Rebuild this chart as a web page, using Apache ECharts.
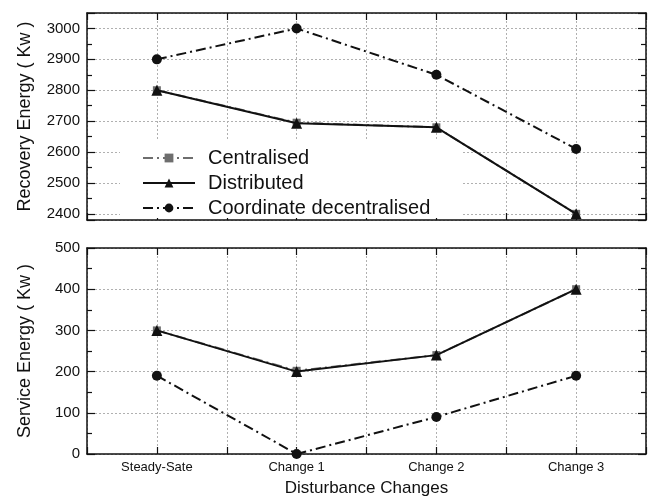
<!DOCTYPE html>
<html>
<head>
<meta charset="utf-8">
<script src="https://cdn.jsdelivr.net/npm/echarts@6/dist/echarts.min.js"></script>
<style>
  html, body { margin: 0; padding: 0; background: #fff; }
  #chart { width: 650px; height: 498px; }
</style>
</head>
<body>
<div id="chart"></div>
<script>
// Disturbance scenarios along the x axis
const categories = ['Steady-Sate', 'Change 1', 'Change 2', 'Change 3'];
const seriesNames = ['Centralised', 'Distributed', 'Coordinate decentralised'];

// Recovery energy (Kw)
const recoveryCentralised = [2800, 2695, 2680, 2400];
const recoveryDistributed = [2800, 2693, 2680, 2400];
const recoveryCoordinate = [2900, 3000, 2850, 2610];

// Service energy (Kw)
const serviceCentralised = [300, 202, 240, 400];
const serviceDistributed = [300, 200, 240, 400];
const serviceCoordinate = [190, 0, 90, 190];

const FONT = '"Liberation Sans", Arial, sans-serif';
const DASH_DOT = [10, 4, 2, 4];
const GRID_LINE = { show: true, lineStyle: { color: '#b0b0b0', type: [2, 2], width: 1 } };
const FRAME = { show: true, onZero: false, lineStyle: { color: '#111', width: 1.5 } };

// pair each value with its category index on the x scale
const toPoints = vals => vals.map((v, i) => [i, v]);

function xAxes(gridIndex, withLabels) {
  const base = {
    type: 'value', gridIndex, min: -0.5, max: 3.5, interval: 0.5,
    axisLine: FRAME,
    axisTick: { show: true, inside: true, length: 7, lineStyle: { color: '#111', width: 1.2 } }
  };
  return [
    Object.assign({}, base, {
      position: 'bottom',
      splitLine: GRID_LINE,
      axisLabel: withLabels ? {
        show: true, fontFamily: FONT, fontSize: 13, color: '#111', margin: 7,
        formatter: v => Number.isInteger(v) ? categories[v] : ''
      } : { show: false },
      name: withLabels ? 'Disturbance Changes' : '',
      nameLocation: 'middle', nameGap: 26,
      nameTextStyle: { fontFamily: FONT, fontSize: 17, color: '#111' }
    }),
    Object.assign({}, base, { position: 'top', splitLine: { show: false }, axisLabel: { show: false } })
  ];
}

function yAxes(gridIndex, range, title) {
  const base = {
    type: 'value', gridIndex, min: range[0], max: range[1], splitNumber: range[2],
    axisLine: FRAME,
    axisTick: { show: true, inside: true, length: 8, lineStyle: { color: '#111', width: 1.2 } },
    minorTick: { show: true, splitNumber: 2, length: 5, lineStyle: { color: '#111', width: 1.2 } }
  };
  return [
    Object.assign({}, base, {
      position: 'left',
      splitLine: GRID_LINE,
      axisLabel: {
        fontFamily: FONT, fontSize: 15, color: '#111', margin: 7,
        showMinLabel: range[3], showMaxLabel: range[3],
        formatter: v => String(v)
      },
      name: title, nameLocation: 'middle', nameGap: 53,
      nameTextStyle: { fontFamily: FONT, fontSize: 18, color: '#111' }
    }),
    Object.assign({}, base, { position: 'right', splitLine: { show: false }, axisLabel: { show: false } })
  ];
}

function lineSeries(name, values, axisIdx, style) {
  return {
    name, type: 'line', data: toPoints(values),
    xAxisIndex: axisIdx, yAxisIndex: axisIdx,
    symbol: style.symbol, symbolSize: style.size,
    itemStyle: { color: style.color },
    lineStyle: { color: style.color, width: 2, type: style.dash },
    z: style.z, animation: false
  };
}

const STYLES = {
  Centralised: { symbol: 'rect', size: 8, color: '#6e6e6e', dash: DASH_DOT, z: 2 },
  Distributed: { symbol: 'triangle', size: 11, color: '#111', dash: 'solid', z: 3 },
  Coordinate: { symbol: 'circle', size: 10, color: '#111', dash: DASH_DOT, z: 3 }
};

const chart = echarts.init(document.getElementById('chart'), null, { renderer: 'canvas' });
chart.setOption({
  backgroundColor: '#fff',
  animation: false,
  grid: [
    { left: 87, right: 4, top: 13, height: 207 },
    { left: 87, right: 4, top: 248, height: 206 }
  ],
  xAxis: [...xAxes(0, false), ...xAxes(1, true)],
  yAxis: [
    ...yAxes(0, [2380, 3050, 7, false], 'Recovery Energy ( Kw )'),
    ...yAxes(1, [0, 500, 5, true], 'Service Energy ( Kw )')
  ],
  legend: {
    data: seriesNames,
    orient: 'vertical',
    left: 120, top: 139,
    backgroundColor: '#fff',
    padding: [9, 32, 0, 22],
    itemWidth: 52, itemHeight: 11, itemGap: 5,
    textStyle: { fontFamily: FONT, fontSize: 20, color: '#111', padding: [0, 0, 0, 8] },
    z: 1
  },
  series: [
    lineSeries(seriesNames[0], recoveryCentralised, 0, STYLES.Centralised),
    lineSeries(seriesNames[1], recoveryDistributed, 0, STYLES.Distributed),
    lineSeries(seriesNames[2], recoveryCoordinate, 0, STYLES.Coordinate),
    lineSeries(seriesNames[0], serviceCentralised, 2, STYLES.Centralised),
    lineSeries(seriesNames[1], serviceDistributed, 2, STYLES.Distributed),
    lineSeries(seriesNames[2], serviceCoordinate, 2, STYLES.Coordinate)
  ]
});
</script>
</body>
</html>
